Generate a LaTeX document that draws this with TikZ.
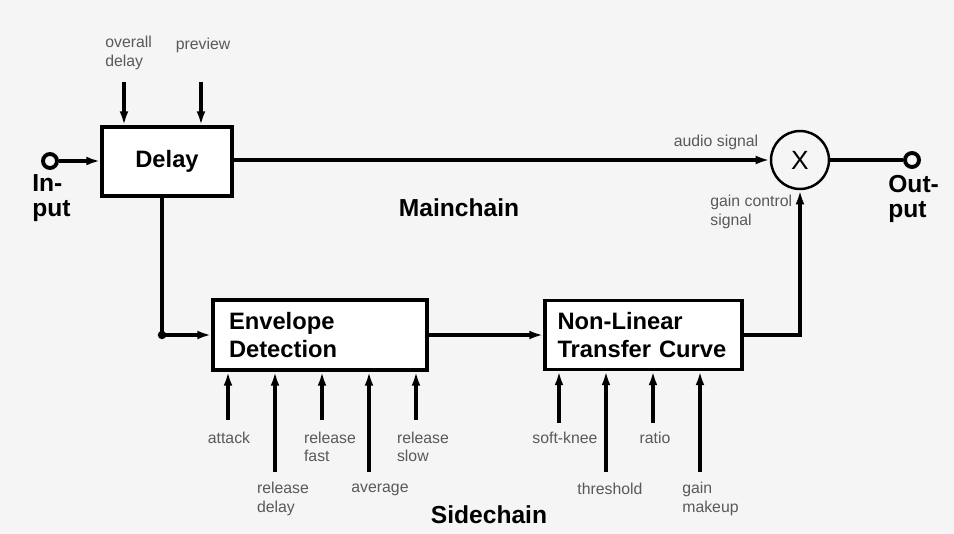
\documentclass[tikz,border=0pt]{standalone}
\usepackage{fontspec}
\setmainfont{Liberation Sans}
\usetikzlibrary{arrows.meta,positioning}
\tikzset{
  block/.style={draw, line width=1.8pt, fill=white, inner ysep=0pt,
    font=\bfseries\fontsize{13.5}{15.5}\selectfont},
  wire/.style={line width=2pt},
  ctrl/.style={wire, -{Latex[length=8pt,width=5pt]}},
  lbl/.style={font=\fontsize{9}{10.5}\selectfont, text=black!65, align=left, inner sep=0pt},
  big/.style={font=\bfseries\fontsize{14}{14}\selectfont, align=left, inner sep=0pt},
  term/.style={circle, draw, line width=2.2pt, minimum size=0.28cm, inner sep=0pt},
}
\begin{document}
\begin{tikzpicture}[x=0.02cm,y=-0.02cm]
  \useasboundingbox[fill=black!4] (0,0) rectangle (954,534);

  % Mainchain
  \node[term] (in) at (50,161) {};
  \node[big, anchor=west] (inl) at (32,198) {In-\\put};
  \node[block, minimum width=2.6cm, minimum height=1.38cm] (delay) at (167,161.5) {Delay};
  \node[circle, draw, line width=1.4pt, minimum size=1.16cm, inner sep=0pt,
    font=\fontsize{15}{15}\selectfont] (mult) at (800,160) {X};
  \node[term] (out) at (912,160) {};
  \node[big, anchor=west] (outl) at (888,199) {Out-\\put};
  \node[big] (mainl) at (459,208) {Mainchain};

  \draw[ctrl] (in) -- (delay.west |- in);
  \draw[ctrl] (delay.east |- mult) -- (mult.west);
  \draw[wire] (mult.east) -- (out.west);
  \node[lbl, anchor=center] (audiol) at (716,142) {audio signal};
  \node[lbl, anchor=west] (gainl) at (710,212) {gain control\\signal};

  % Delay controls
  \coordinate (ovd) at (124,82);
  \coordinate (prv) at (201,82);
  \draw[ctrl] (ovd) -- (ovd |- delay.north);
  \draw[ctrl] (prv) -- (prv |- delay.north);
  \node[lbl, anchor=west] (ovdl) at (105,53) {overall\\delay};
  \node[lbl] (prvl) at (203,45) {preview};

  % Sidechain
  \node[block, inner xsep=0.32cm, text width=3.64cm, align=left,
    minimum height=1.4cm] (env) at (320,335) {Envelope\\Detection};
  \node[block, inner xsep=0.25cm, text width=3.44cm, align=left,
    minimum height=1.38cm] (nltc) at (643.5,335) {Non-Linear\\Transfer Curve};
  \node[big] (sidel) at (489,515) {Sidechain};

  \draw[ctrl] ([xshift=-0.1cm]delay.south) |- (env.west);
  \fill ([xshift=-0.1cm]delay.south |- env.west) circle (2.4pt);
  \draw[ctrl] (env.east) -- (nltc.west);
  \draw[ctrl] (nltc.east) -| (mult.south);

  % Envelope controls
  \coordinate (atk) at (228,420);
  \coordinate (rld) at (275,472);
  \coordinate (rlf) at (322,420);
  \coordinate (avg) at (369,472);
  \coordinate (rls) at (416,420);
  \foreach \c in {atk,rld,rlf,avg,rls}
    \draw[ctrl] (\c) -- (\c |- env.south);
  \node[lbl] (atkl) at (229,438) {attack};
  \node[lbl] (rldl) at (283,499) {release\\delay};
  \node[lbl] (rlfl) at (330,447) {release\\fast};
  \node[lbl] (avgl) at (380,490) {average};
  \node[lbl] (rlsl) at (423,447) {release\\slow};

  % Transfer curve controls
  \coordinate (skn) at (559,423);
  \coordinate (thr) at (606,472);
  \coordinate (rat) at (653,423);
  \coordinate (gmk) at (700,472);
  \foreach \c in {skn,thr,rat,gmk}
    \draw[ctrl] (\c) -- (\c |- nltc.south);
  \node[lbl] (sknl) at (565,438) {soft-knee};
  \node[lbl] (thrl) at (610,489) {threshold};
  \node[lbl] (ratl) at (655,438) {ratio};
  \node[lbl, anchor=west] (gmkl) at (682,499) {gain\\makeup};
\end{tikzpicture}
\end{document}
